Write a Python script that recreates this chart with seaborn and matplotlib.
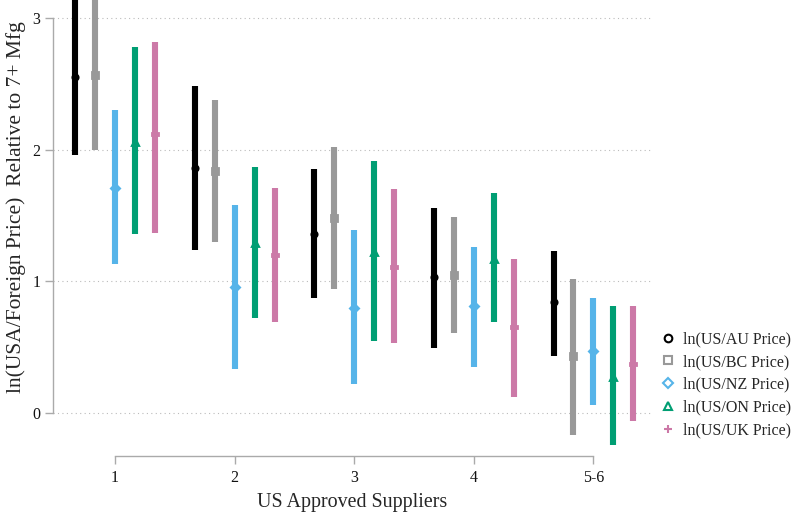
import numpy as np
import pandas as pd
import matplotlib
matplotlib.use("Agg")
import matplotlib.pyplot as plt
from matplotlib.lines import Line2D
import seaborn as sns

categories = ["1", "2", "3", "4", "5-6"]
series = ["ln(US/AU Price)", "ln(US/BC Price)", "ln(US/NZ Price)",
          "ln(US/ON Price)", "ln(US/UK Price)"]

au_est = [2.55, 1.86, 1.36, 1.03, 0.84]
au_lo = [1.96, 1.24, 0.87, 0.49, 0.43]
au_hi = [3.30, 2.48, 1.85, 1.56, 1.23]

bc_est = [2.57, 1.84, 1.48, 1.05, 0.43]
bc_lo = [2.00, 1.30, 0.94, 0.61, -0.17]
bc_hi = [3.15, 2.38, 2.02, 1.49, 1.02]

nz_est = [1.71, 0.96, 0.80, 0.81, 0.47]
nz_lo = [1.13, 0.33, 0.22, 0.35, 0.06]
nz_hi = [2.30, 1.58, 1.39, 1.26, 0.87]

on_est = [2.06, 1.29, 1.22, 1.17, 0.27]
on_lo = [1.36, 0.72, 0.55, 0.69, -0.24]
on_hi = [2.78, 1.87, 1.91, 1.67, 0.81]

uk_est = [2.12, 1.20, 1.11, 0.65, 0.37]
uk_lo = [1.37, 0.69, 0.53, 0.12, -0.06]
uk_hi = [2.82, 1.71, 1.70, 1.17, 0.81]

colors = ["#000000", "#999999", "#56B4E9", "#009E73", "#CC79A7"]
markers = ["o", "s", "D", "^", "P"]

all_vals = [(au_lo, au_est, au_hi), (bc_lo, bc_est, bc_hi), (nz_lo, nz_est, nz_hi),
            (on_lo, on_est, on_hi), (uk_lo, uk_est, uk_hi)]

rows = []
for name, (lo, est, hi) in zip(series, all_vals):
    for c, l, e, h in zip(categories, lo, est, hi):
        for v in (l, e, h):
            rows.append({"cat": c, "series": name, "val": v})
df = pd.DataFrame(rows)

sns.set_style("white")
plt.rcParams["font.family"] = ["Liberation Serif", "DejaVu Serif"]

fig = plt.figure(figsize=(7.96, 5.14), dpi=100)
ax = fig.add_axes([53 / 796, 58 / 514, (652 - 53) / 796, 456 / 514])

sns.pointplot(data=df, x="cat", y="val", hue="series", order=categories,
              hue_order=series, estimator="median", errorbar=("pi", 100),
              dodge=0.667, palette=colors, markers=markers, linestyles="none",
              markersize=3.8, err_kws={"linewidth": 4.4, "solid_capstyle": "butt"},
              ax=ax, legend=False)

ax.set_xlim(-0.519, 4.49)
ax.set_ylim(-0.327, 3.136)
ax.set_yticks([0, 1, 2, 3])
ax.set_yticklabels(["0", "1", "2", "3"])
ax.set_xticks(range(len(categories)))
ax.set_xticklabels(categories)
for y in [0, 1, 2, 3]:
    ax.axhline(y, color="#bbbbbb", linestyle=(0, (1, 3)), linewidth=0.8, zorder=0)

for s in ["top", "right"]:
    ax.spines[s].set_visible(False)
for s in ["left", "bottom"]:
    ax.spines[s].set_color("#aaaaaa")
    ax.spines[s].set_linewidth(1.0)
ax.spines["left"].set_bounds(0, 3)
ax.spines["bottom"].set_bounds(0, 4)
ax.tick_params(axis="both", which="major", bottom=True, left=True, direction="out",
               length=6, width=1.0, color="#aaaaaa",
               labelsize=11.5, labelcolor="#111111", pad=4)
ax.tick_params(axis="y", pad=3)

ax.set_xlabel("US Approved Suppliers", fontsize=14.4, labelpad=5)
ax.set_ylabel("ln(USA/Foreign Price)  Relative to 7+ Mfg", fontsize=15.5)
ax.yaxis.set_label_coords(-0.045, (456 - 207) / 456)

handles = [Line2D([], [], linestyle="none", marker=m, markersize=5.5,
                  markerfacecolor="none", markeredgecolor=c, markeredgewidth=1.5)
           for m, c in zip(["o", "s", "D", "^"], colors[:4])]
handles.append(Line2D([], [], linestyle="none", marker="+", markersize=6,
                      markeredgecolor=colors[4], markeredgewidth=1.5))
fig.legend(handles, series, loc="upper left", bbox_to_anchor=(644 / 796, 1 - 317 / 514),
           frameon=False, fontsize=11.5, handletextpad=0.35, labelspacing=0.42,
           handlelength=1.2)

fig.savefig("out.png", dpi=100)
